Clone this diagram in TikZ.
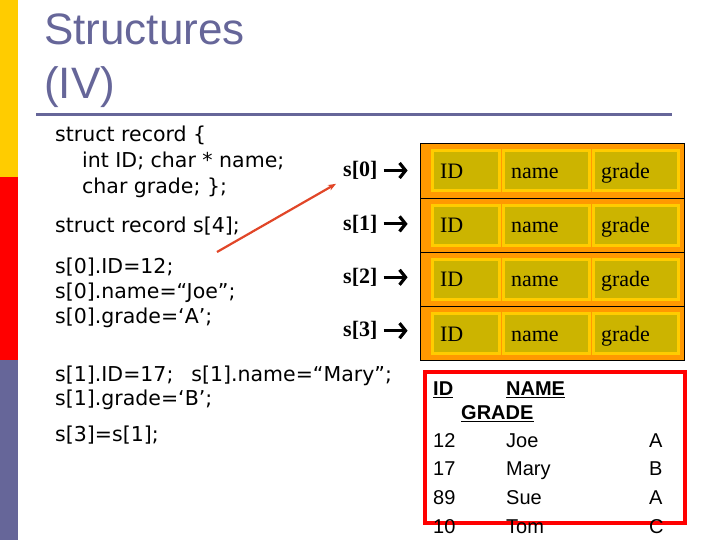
\documentclass[tikz,border=0pt]{standalone}
\usepackage{fontspec}
\setmainfont{Liberation Serif}
\newfontfamily\codefont{DejaVu Sans}
\newfontfamily\headfont{Liberation Sans}
\usepackage{xcolor}
\usepackage{tikz}
\usetikzlibrary{arrows.meta}
\definecolor{slate}{RGB}{102,102,153}
\definecolor{barYellow}{RGB}{255,204,0}
\definecolor{recOrange}{RGB}{255,153,0}
\definecolor{cellOlive}{RGB}{204,180,0}
\definecolor{ptrRed}{RGB}{225,70,40}

\begin{document}
\begin{tikzpicture}[x=1pt,y=-1pt,
  code/.style={anchor=base west, inner sep=0pt, align=left,
    font=\codefont\fontsize{20.5}{26}\selectfont},
  rec/.style={draw=black, line width=0.8pt, fill=recOrange,
    minimum width=264pt, minimum height=54.25pt, inner sep=0pt},
  cell/.style={draw=barYellow, line width=3pt, fill=cellOlive, text width=#1,
    align=left, inner xsep=8pt, inner ysep=0pt, minimum height=40pt,
    text height=18pt, text depth=3.4pt, font=\fontsize{22}{26}\selectfont},
  lbl/.style={anchor=west, inner sep=0pt, font=\bfseries\fontsize{22}{26}\selectfont},
  ptr/.style={line width=3.2pt, -{Straight Barb[length=6pt,width=15pt]},
    shorten <=6pt, shorten >=12pt},
  tbl/.style={anchor=base west, inner sep=0pt, font=\headfont\fontsize{20}{24}\selectfont},
  head/.style={tbl, font=\headfont\bfseries\fontsize{20}{24}\selectfont}]
  \useasboundingbox (0,0) rectangle (720,540);
  % side bar and title
  \fill[barYellow] (0,0) rectangle (18,177);
  \fill[red] (0,177) rectangle (18,360);
  \fill[slate] (0,360) rectangle (18,540);
  % (base of a two-line node is its last line)
  \node[anchor=base west, inner sep=0pt, align=left, text=slate,
    font=\headfont\fontsize{44}{54}\selectfont] (title) at (44,99) {Structures\\(IV)};
  \draw[slate, line width=3pt] (36,115) -- (672,115);
  % code on the left
  \node[code] (decl) at (55,194) {struct record \{\\\hspace*{27pt}int ID; char * name;\\\hspace*{27pt}char grade; \};};
  \node[code] (arr4) at (55,233) {struct record s[4];};
  \node[code, font=\codefont\fontsize{20.5}{25}\selectfont] (set0) at (55,323)
    {s[0].ID=12;\\s[0].name=“Joe”;\\s[0].grade=‘A’;};
  \node[code, font=\codefont\fontsize{20.5}{23.5}\selectfont] (set1) at (55,405)
    {s[1].ID=17;\hspace{18pt}s[1].name=“Mary”;\\s[1].grade=‘B’;};
  \node[code] (copy) at (55,441) {s[3]=s[1];};
  % the array of records
  \foreach \i in {0,...,3}{
    \node[rec] (row\i) at (552,{171+54.25*\i}) {};
    \node[cell=51pt] (id\i) at ([xshift=-86.5pt]row\i.center) {ID};
    \node[cell=70pt] (nm\i) at ([xshift=-6pt]row\i.center) {name};
    \node[cell=69pt] (gr\i) at ([xshift=83.5pt]row\i.center) {grade};
    \node[lbl] (lbl\i) at (343,{170.5+53.4*\i}) {s[\i]};
    \draw[ptr] (lbl\i.east) -- (lbl\i.east -| row\i.west);
  }
  \coordinate (tail) at (217,252);
  \draw[ptrRed, line width=2.2pt, -{Stealth[length=8pt,width=6pt]}, shorten >=8pt]
    (tail) -- (lbl0.south west);
  % values after the assignments
  \draw[red, line width=4pt] (425,372) rectangle (685,523);
  \node[head] (hid) at (433,395) {ID};
  \node[head] (hname) at (506,395) {NAME};
  \node[head] (hgrade) at (461,419) {GRADE};
  \foreach \h in {hid,hname,hgrade}
    \draw[line width=1.6pt] ([yshift=-2.5pt]\h.base west) -- ([yshift=-2.5pt]\h.base east);
  \foreach \id/\nm/\gr [count=\k from 0] in {12/Joe/A,17/Mary/B,89/Sue/A,10/Tom/C}{
    \node[tbl] (vid\k) at (433,{447+28.7*\k}) {\id};
    \node[tbl] (vnm\k) at (506,{447+28.7*\k}) {\nm};
    \node[tbl] (vgr\k) at (649,{447+28.7*\k}) {\gr};
  }
\end{tikzpicture}
\end{document}
